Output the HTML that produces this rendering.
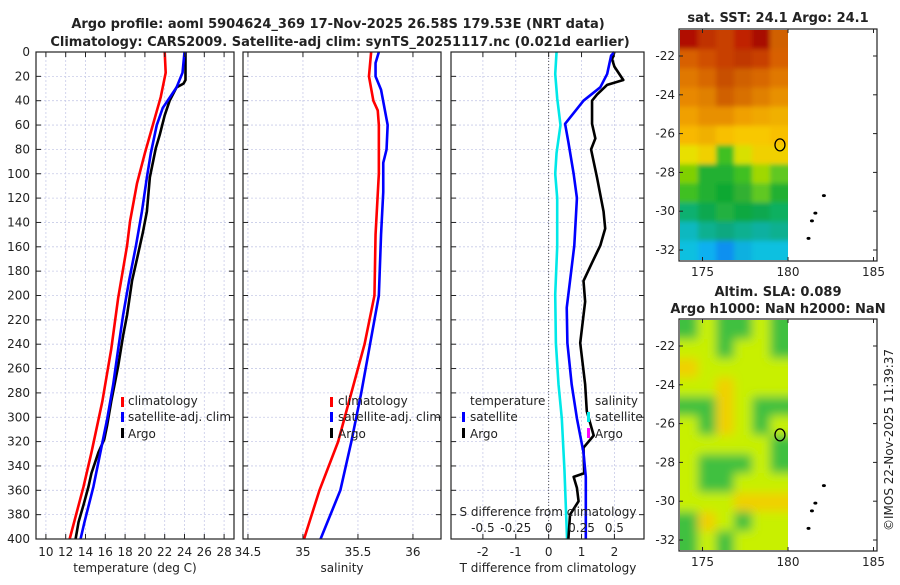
<!DOCTYPE html>
<html><head><meta charset="utf-8"><style>
body{margin:0;background:#fff;}
svg text{font-family:"DejaVu Sans","Liberation Sans",sans-serif;fill:#222;}
</style></head><body>
<svg id="c" width="900" height="580" xmlns="http://www.w3.org/2000/svg">
<defs>
<filter id="blurA" x="-20%" y="-20%" width="140%" height="140%"><feGaussianBlur stdDeviation="2.5"/></filter>
<filter id="blurB" x="-20%" y="-20%" width="140%" height="140%"><feGaussianBlur stdDeviation="5"/></filter>
<clipPath id="clipA"><rect x="680" y="30" width="108" height="230"/></clipPath>
<clipPath id="clipB"><rect x="680" y="320" width="108" height="230"/></clipPath>
</defs>
<text x="338" y="28" text-anchor="middle" font-size="13" font-weight="bold">Argo profile: aoml 5904624_369 17-Nov-2025 26.58S 179.53E (NRT data)</text>
<text x="340" y="46" text-anchor="middle" font-size="13" font-weight="bold">Climatology: CARS2009. Satellite-adj clim: synTS_20251117.nc (0.021d earlier)</text>
<text x="778" y="22" text-anchor="middle" font-size="13" font-weight="bold">sat. SST: 24.1 Argo: 24.1</text>
<text x="778" y="296" text-anchor="middle" font-size="13" font-weight="bold">Altim. SLA: 0.089</text>
<text x="778" y="313" text-anchor="middle" font-size="13" font-weight="bold">Argo h1000: NaN h2000: NaN</text>
<text transform="translate(893,440) rotate(-90)" text-anchor="middle" font-size="12">©IMOS 22-Nov-2025 11:39:37</text>
</svg>
<script>
// ---- data ----
const depthTicks=[0,20,40,60,80,100,120,140,160,180,200,220,240,260,280,300,320,340,360,380,400];
const tempTicks=[10,12,14,16,18,20,22,24,26,28];
const salTicks=[34.5,35,35.5,36];
const tdiffTicks=[-2,-1,0,1,2];
const sdiffTicks=[-0.5,-0.25,0,0.25,0.5];
const climTempDepth=[0,17,37,60,83,108,139,159,202,244,287,329,357,400];
const climTemp=[22.0,22.1,21.6,20.8,20.0,19.2,18.5,18.2,17.3,16.6,15.7,14.6,13.8,12.4];
const satTempDepth=[0,17,29,46,60,83,103,131,159,188,216,244,273,301,329,357,386,400];
const satTemp=[24.0,23.8,23.2,21.8,21.2,20.6,20.2,19.7,19.1,18.4,17.8,17.3,16.8,16.2,15.5,14.8,13.9,13.5];
const argoTempDepth=[0,23,26,29,40,52,68,79,103,131,148,170,188,216,233,258,287,306,318,329,346,357,372,386,400];
const argoTemp=[24.1,24.1,23.9,23.2,22.5,22.0,21.5,21.1,20.5,20.2,19.8,19.2,18.7,18.2,17.8,17.3,16.6,16.2,15.9,15.3,14.6,14.3,13.8,13.3,13.0];
const climSalDepth=[0,20,40,48,60,100,150,200,240,280,320,360,400];
const climSal=[35.62,35.6,35.64,35.68,35.69,35.69,35.66,35.65,35.56,35.44,35.32,35.15,35.01];
const satSalDepth=[0,9,20,31,60,80,91,115,150,200,240,280,320,360,400];
const satSal=[35.69,35.66,35.66,35.71,35.77,35.76,35.73,35.73,35.71,35.69,35.61,35.53,35.44,35.34,35.16];
const sdiffDepth=[0,18,38,60,83,100,120,160,199,239,273,301,343,400];
const sdiffSat=[0.06,0.05,0.065,0.09,0.06,0.05,0.065,0.065,0.05,0.055,0.075,0.1,0.12,0.14];
const tdiffSatDepth=[0,3,18,29,40,59,74,100,120,159,188,210,239,273,301,329,349,400];
const tdiffSat=[2.0,1.9,1.78,1.57,1.06,0.5,0.6,0.76,0.86,0.78,0.65,0.55,0.57,0.7,0.86,1.06,1.13,1.13];
const tdiffArgoDepth=[0,6,12,23,27,35,40,59,71,80,103,131,145,159,173,188,205,239,273,295,315,325,346,349,358,369,380,400];
const tdiffArgo=[2.0,1.93,2.0,2.27,1.78,1.47,1.32,1.32,1.42,1.29,1.47,1.67,1.72,1.57,1.32,1.06,1.11,0.96,1.11,1.16,1.37,1.06,1.08,0.76,0.86,0.91,0.65,0.6];
const mapLatTicks=[-22,-24,-26,-28,-30,-32];
const mapLonTicks=[175,180,185];
const argoLon=179.53, argoLat=-26.58;
const islandLon=[182.1,181.6,181.4,181.2];
const islandLat=[-29.2,-30.1,-30.5,-31.4];

const S=document.getElementById('c');const NS='http://www.w3.org/2000/svg';
function mk(t,a,p){const e=document.createElementNS(NS,t);for(const k in a)e.setAttribute(k,a[k]);(p||S).appendChild(e);return e;}
const yTop=52,yBot=539;
const yD=d=>yTop+(yBot-yTop)*d/400;
function panel(x0,x1,name){
  const g=mk('g',{});
  
  
  return g;
}
function grid(g,x0,x1,xs,xf){
  depthTicks.forEach(d=>{const l=mk('line',{x1:x0,x2:x1,y1:yD(d),y2:yD(d),stroke:'#c8cbe8','stroke-width':0.8,'stroke-dasharray':'2,2'},g);
    
    });
  xs.forEach(v=>{const l=mk('line',{x1:xf(v),x2:xf(v),y1:yTop,y2:yBot,stroke:'#c8cbe8','stroke-width':0.8,'stroke-dasharray':'2,2'},g);
    
    });
}
function txt(g,x,y,s,name,opt){const t=mk('text',Object.assign({x:x,y:y,'font-size':12},opt||{}),g);t.textContent=s;
  
  
  return t;}
function frame(g,x0,x1,xs,xf,labels){
  depthTicks.forEach(d=>{mk('line',{x1:x0,x2:x0+5,y1:yD(d),y2:yD(d),stroke:'#222'},g);mk('line',{x1:x1-5,x2:x1,y1:yD(d),y2:yD(d),stroke:'#222'},g);});
  xs.forEach(v=>{mk('line',{x1:xf(v),x2:xf(v),y1:yBot,y2:yBot-5,stroke:'#222'},g);mk('line',{x1:xf(v),x2:xf(v),y1:yTop,y2:yTop+5,stroke:'#222'},g);
    if(labels){txt(g,xf(v),556,String(v),'x-tick-label',{'text-anchor':'middle'});}});
  const r=mk('rect',{x:x0,y:yTop,width:x1-x0,height:yBot-yTop,fill:'none',stroke:'#222','stroke-width':1.2},g);
  
  
}
function line(g,xs,ds,xf,col,name,w){
  const p=mk('polyline',{points:xs.map((v,i)=>xf(v)+','+yD(ds[i])).join(' '),fill:'none',stroke:col,'stroke-width':w||2.6,'stroke-linejoin':'round'},g);
  
  
}
function legMark(g,x,y,col){const r=mk('rect',{x:x,y:y-10,width:3,height:10,fill:col},g);
  
  }

// Panel 1 temperature
const X1=[36,234],T0=9,T1=29;const xT=v=>X1[0]+(X1[1]-X1[0])*(v-T0)/(T1-T0);
const g1=panel(...X1,'temperature-panel');
grid(g1,X1[0],X1[1],tempTicks,xT);
line(g1,climTemp,climTempDepth,xT,'#ff0000','climatology-temp-line');
line(g1,argoTemp,argoTempDepth,xT,'#000','argo-temp-line');
line(g1,satTemp,satTempDepth,xT,'#0000ff','satellite-temp-line');
frame(g1,X1[0],X1[1],tempTicks,xT,true);
depthTicks.forEach(d=>txt(g1,30,yD(d)+4,String(d),'y-tick-label',{'text-anchor':'end'}));
txt(g1,135,572,'temperature (deg C)','x-axis-title',{'text-anchor':'middle'});
legMark(g1,121,407,'#ff0000');txt(g1,128,405,'climatology','legend-climatology');
legMark(g1,121,422,'#0000ff');txt(g1,128,421,'satellite-adj. clim','legend-satellite');
legMark(g1,121,438,'#000');txt(g1,128,438,'Argo','legend-argo');

// Panel 2 salinity
const X2=[243,441],S0=34.455,S1=36.255;const xS=v=>X2[0]+(X2[1]-X2[0])*(v-S0)/(S1-S0);
const g2=panel(...X2,'salinity-panel');
grid(g2,X2[0],X2[1],salTicks,xS);
line(g2,climSal,climSalDepth,xS,'#ff0000','climatology-salinity-line');
line(g2,satSal,satSalDepth,xS,'#0000ff','satellite-salinity-line');
frame(g2,X2[0],X2[1],salTicks,xS,true);
txt(g2,342,572,'salinity','x-axis-title',{'text-anchor':'middle'});
legMark(g2,330,407,'#ff0000');txt(g2,338,405,'climatology','legend-climatology');
legMark(g2,330,422,'#0000ff');txt(g2,338,421,'satellite-adj. clim','legend-satellite');
legMark(g2,330,438,'#000');txt(g2,338,438,'Argo','legend-argo');

// Panel 3 differences
const X3=[451,644],D0=-2.97,D1=2.9;const xD=v=>X3[0]+(X3[1]-X3[0])*(v-D0)/(D1-D0);const xSD=v=>xD(v*4);
const g3=panel(...X3,'difference-panel');
grid(g3,X3[0],X3[1],tdiffTicks,xD);
const z=mk('line',{x1:xD(0),x2:xD(0),y1:yTop,y2:yBot,stroke:'#555','stroke-dasharray':'1,2'},g3);


line(g3,sdiffSat,sdiffDepth,xSD,'#00e8e8','salinity-satellite-diff-line');
line(g3,tdiffArgo,tdiffArgoDepth,xD,'#000','argo-temp-diff-line');
line(g3,tdiffSat,tdiffSatDepth,xD,'#0000ff','satellite-temp-diff-line');
frame(g3,X3[0],X3[1],tdiffTicks,xD,true);
txt(g3,548,572,'T difference from climatology','x-axis-title',{'text-anchor':'middle'});
txt(g3,548,516,'S difference from climatology','s-axis-title',{'text-anchor':'middle'});
sdiffTicks.forEach(v=>txt(g3,xSD(v),532,String(v),'s-tick-label',{'text-anchor':'middle'}));
txt(g3,470,405,'temperature','legend-temperature');
legMark(g3,462,422,'#0000ff');txt(g3,470,421,'satellite','legend-t-satellite');
legMark(g3,462,438,'#000');txt(g3,470,438,'Argo','legend-t-argo');
txt(g3,595,405,'salinity','legend-salinity');
legMark(g3,587,422,'#00e8e8');txt(g3,595,421,'satellite','legend-s-satellite');
legMark(g3,587,438,'#ff00ff');txt(g3,595,438,'Argo','legend-s-argo');

// Maps
const sst=[
['#b01000','#c03000','#c84000','#c02000','#a80c00','#d06000'],
['#d86000','#d05000','#c84000','#c03800','#c84000','#d86000'],
['#e07800','#d86800','#c85000','#d06000','#d86800','#e07800'],
['#e88800','#e08000','#d06000','#d87000','#e08000','#e89000'],
['#f0a000','#e89000','#e89000','#f0a000','#f0a800','#f0b000'],
['#f8b800','#f0b000','#f8c000','#f8c800','#f8c800','#f8c000'],
['#e8e000','#f0d000','#40c020','#d8e000','#f0d000','#f0d000'],
['#80d000','#20b030','#20b030','#40c020','#a0d800','#60c820'],
['#40c020','#20b030','#10a830','#30b030','#60c820','#20b030'],
['#10b070','#10a850','#20b040','#10a840','#10a850','#10b060'],
['#10b8c0','#10b090','#10a880','#10b090','#10b0a0','#10b090'],
['#10c0e0','#10b0f0','#1090f0','#10b0e0','#10c0e0','#10c0e0']];
const G='#40c040',Y='#c8f000',O='#f0d000';
const sla=[[G,Y,G,G,Y,G],[Y,Y,G,Y,Y,G],[O,Y,Y,Y,Y,Y],[Y,Y,O,Y,Y,Y],[G,G,O,Y,G,G],[Y,G,O,Y,G,Y],[Y,Y,Y,Y,Y,G],[Y,G,G,G,Y,G],[Y,G,G,Y,Y,Y],[Y,Y,Y,O,O,O],[G,O,Y,G,Y,Y],[G,Y,G,Y,Y,Y]];
function map(y0,cells,name,clip,blur){
  const g=mk('g',{});
  
  
  const bx=[679,877],by=[y0,y0+232];
  const lon=v=>788+(v-180)*17.1, lat=v=>y0+27+(-22-v)*19.4;
  const w=108/6,h=230/12;
  const cg=mk('g',{'clip-path':'url(#'+clip+')'},g);
  const fg=mk('g',{filter:'url(#'+blur+')'},cg);
  const nr=cells.length,nc=cells[0].length,pad=14;
  cells.forEach((row,r)=>row.forEach((c,k)=>{
    let x=680+k*w,y=y0+1+r*h,ww=w+0.5,hh=h+0.5;
    if(k===0){x-=pad;ww+=pad;} if(k===nc-1){ww+=pad;}
    if(r===0){y-=pad;hh+=pad;} if(r===nr-1){hh+=pad;}
    mk('rect',{x:x,y:y,width:ww,height:hh,fill:c},fg);}));
  const fr=mk('rect',{x:bx[0],y:by[0],width:bx[1]-bx[0],height:by[1]-by[0],fill:'none',stroke:'#222','stroke-width':1.2},g);
  
  
  mapLatTicks.forEach(v=>{mk('line',{x1:bx[0],x2:bx[0]+4,y1:lat(v),y2:lat(v),stroke:'#222'},g);mk('line',{x1:bx[1]-4,x2:bx[1],y1:lat(v),y2:lat(v),stroke:'#222'},g);txt(g,675,lat(v)+4,String(v),'map-lat-label',{'text-anchor':'end'});});
  mapLonTicks.forEach(v=>{mk('line',{x1:lon(v),x2:lon(v),y1:by[1],y2:by[1]-4,stroke:'#222'},g);mk('line',{x1:lon(v),x2:lon(v),y1:by[0],y2:by[0]+4,stroke:'#222'},g);txt(g,lon(v),by[1]+15,String(v),'map-lon-label',{'text-anchor':'middle'});});
  islandLon.forEach((v,i)=>{const e=mk('ellipse',{cx:lon(v),cy:lat(islandLat[i]),rx:2,ry:1.5,fill:'#000'},g);
    
    });
  const c=mk('ellipse',{cx:lon(argoLon),cy:lat(argoLat),rx:5,ry:6,fill:'none',stroke:'#000','stroke-width':1.3},g);
  
  
}
map(29,sst,'sst-map','clipA','blurA');
map(319,sla,'sla-map','clipB','blurB');
</script>
</body></html>
